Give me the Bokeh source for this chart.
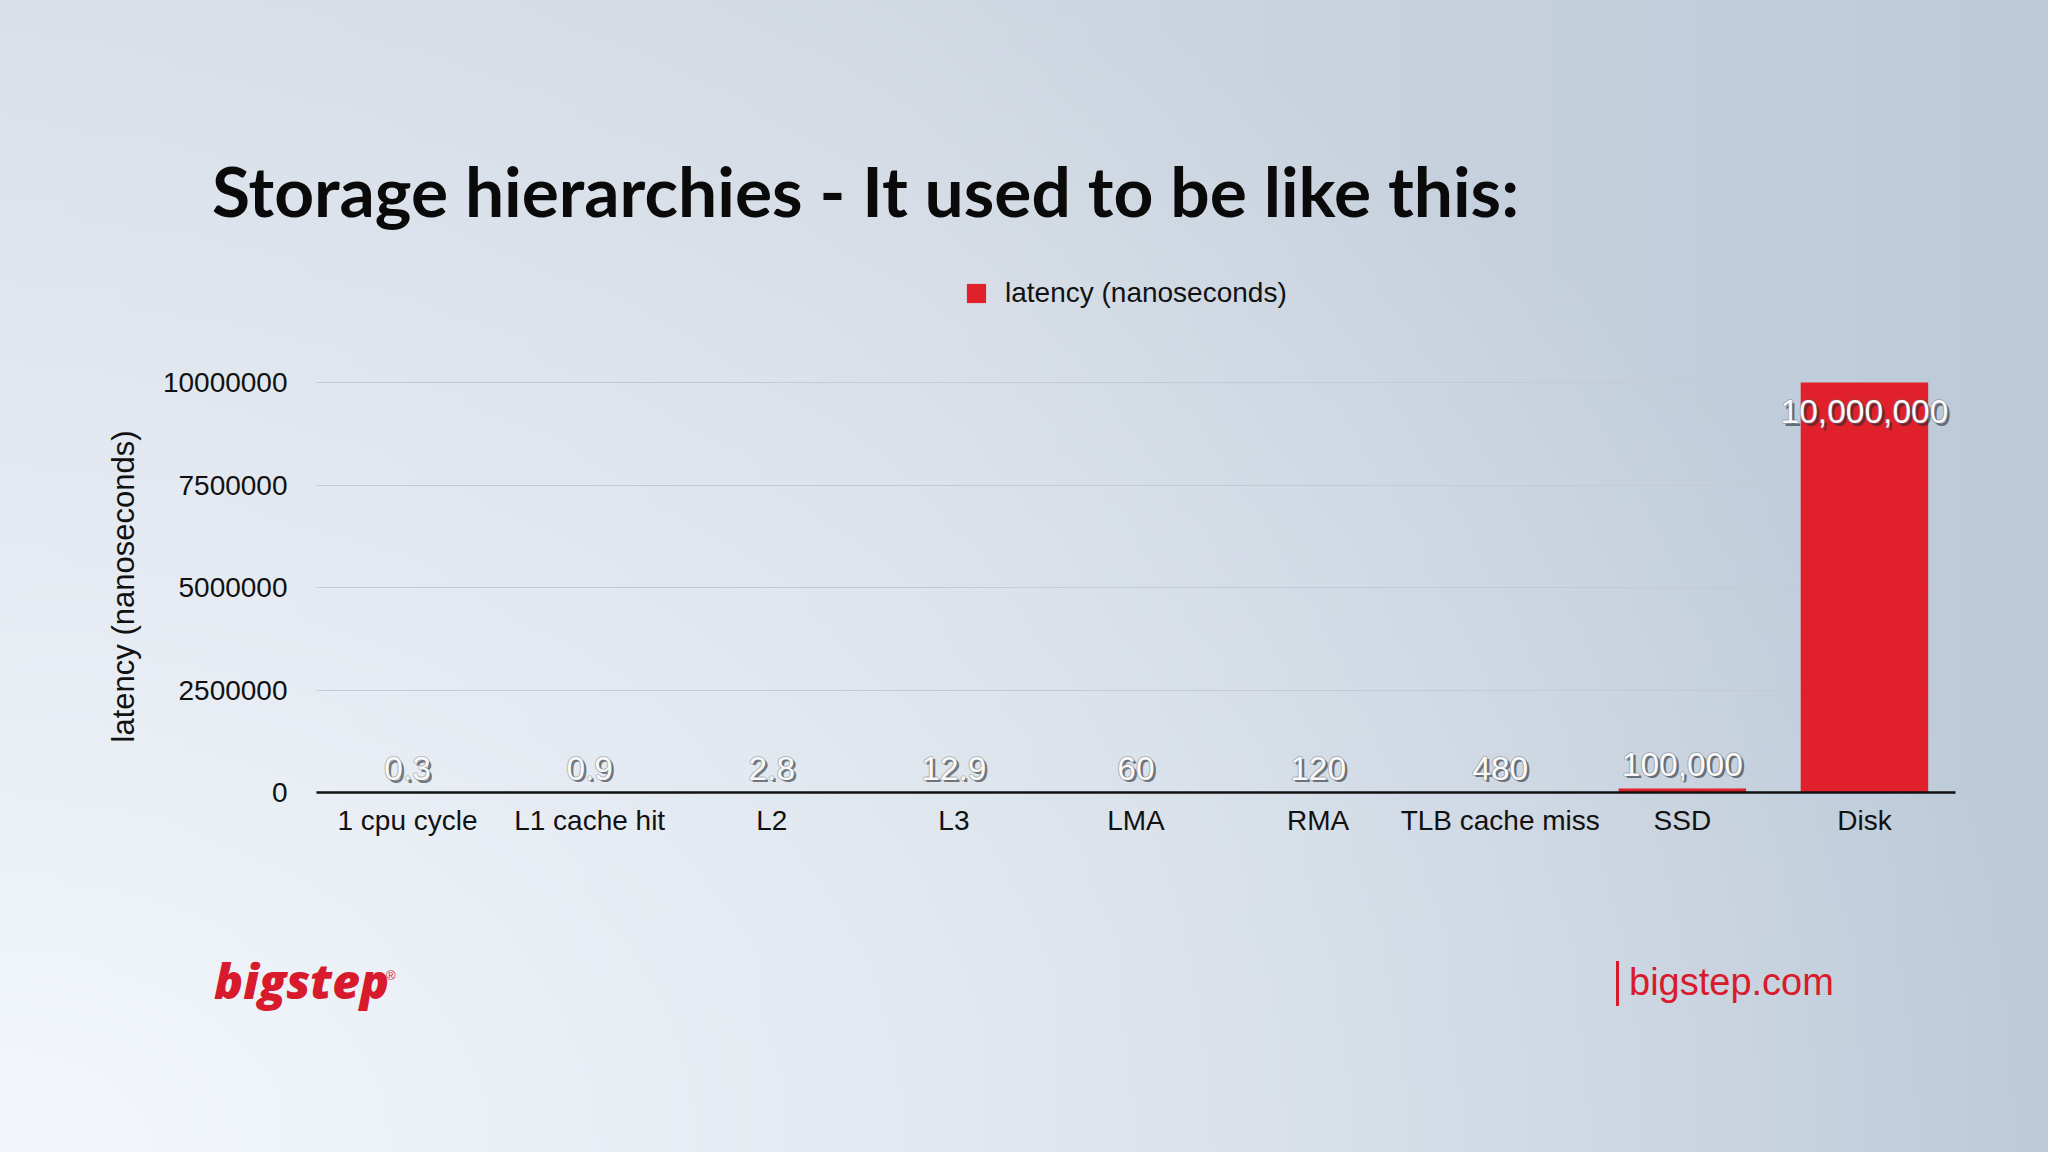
from bokeh.plotting import figure
from bokeh.layouts import column
from bokeh.models import (ColumnDataSource, FixedTicker, Legend, LegendItem,
                          NumeralTickFormatter, Range1d, Div)
from bokeh.core.properties import value
from bokeh.embed import file_html
from bokeh.resources import INLINE

# ---- data ----
categories = ["1 cpu cycle", "L1 cache hit", "L2", "L3", "LMA", "RMA",
              "TLB cache miss", "SSD", "Disk"]
latency_ns = [0.3, 0.9, 2.8, 12.9, 60, 120, 480, 100000, 10000000]
value_labels = ["0.3", "0.9", "2.8", "12.9", "60", "120", "480", "100,000", "10,000,000"]
y_ticks = [0, 2500000, 5000000, 7500000, 10000000]
title_text = "Storage hierarchies - It used to be like this:"
series_name = "latency (nanoseconds)"
y_axis_title = "latency (nanoseconds)"
logo_text = "bigstep"
site_text = "bigstep.com"

# ---- styles ----
RED = "#e0202b"
LOGO_RED = "#d81b2c"
FONT = "Liberation Sans"
W = 2048
TOP_H, LEG_H, CHART_H, BOTTOM_H = 240, 100, 560, 252

GRAD = ("radial-gradient(ellipse 100% 120% at 0% 100%, rgba(243,247,253,1) 0%, "
        "rgba(243,247,253,0.6) 40%, rgba(243,247,253,0) 100%), "
        "linear-gradient(to right, #d4dbe5 0%, #cfd7e1 45%, #bccad8 100%)")


def bg(offset_y):
    return {"background-image": GRAD, "background-size": "2048px 1152px",
            "background-position": "0px -%dpx" % offset_y,
            "background-repeat": "no-repeat", "margin": "0", "padding": "0"}


def clear(f):
    f.title.visible = False
    f.background_fill_color = None
    f.border_fill_color = None
    f.outline_line_color = None


ymax = max(latency_ns)
offs = [29 if v == ymax else -24 for v in latency_ns]
shadow_specs = [(2.5, 2.5, "#262a30", 0.6), (-1, 0, "#6b717a", 0.4),
                (1, 0, "#6b717a", 0.4), (0, -1, "#6b717a", 0.4), (0, 1, "#6b717a", 0.4)]
data = dict(cat=categories, val=latency_ns, lab=value_labels, yoff=offs)
for i, (dx, dy, c, a) in enumerate(shadow_specs):
    data["yoff_%d" % i] = [o + dy for o in offs]
src = ColumnDataSource(data)

# ---------------- top: title ----------------
top = Div(width=W, height=TOP_H, styles=bg(0), text=(
    '<div style="margin:0; padding:156px 0 0 212px; font-family:Lato; font-weight:700; '
    'font-size:69.5px; line-height:69.5px; color:#0a0a0a; white-space:nowrap;">'
    + title_text + '</div>'))

# ---------------- legend strip ----------------
leg = figure(x_range=categories, y_range=Range1d(0, 1), width=W, height=LEG_H,
             x_axis_type=None, y_axis_type=None, output_backend="svg",
             toolbar_location=None, min_border_left=316, min_border_right=93,
             min_border_top=0, min_border_bottom=0)
clear(leg)
leg.styles = bg(TOP_H)
leg_bars = leg.vbar(x="cat", top="val", width=0.7, source=src, fill_color=RED,
                    line_color=None, visible=False)
leg.add_layout(Legend(items=[LegendItem(label=series_name, renderers=[leg_bars])],
                      location=(648, 31), orientation="horizontal",
                      glyph_width=24, glyph_height=24, label_height=24,
                      label_standoff=17, padding=0, margin=0, spacing=0,
                      border_line_color=None, background_fill_alpha=0,
                      label_text_font=FONT, label_text_font_size="28px",
                      label_text_color="#111111"))

# ---------------- chart ----------------
p = figure(x_range=categories, y_range=Range1d(0, ymax * 1.005), width=W, height=CHART_H,
           output_backend="svg", toolbar_location=None,
           min_border_left=316, min_border_right=93,
           min_border_top=40, min_border_bottom=108)
clear(p)
p.styles = bg(TOP_H + LEG_H)

bars = p.vbar(x="cat", top="val", width=0.7, source=src, fill_color=RED, line_color=None)

txt = dict(x="cat", y="val", text="lab", source=src, text_align="center",
           text_baseline="middle", text_font=value(FONT), text_font_size="33.5px")
for i, (dx, dy, c, a) in enumerate(shadow_specs):
    p.text(x_offset=dx, y_offset="yoff_%d" % i, text_color=c, text_alpha=a, **txt)
p.text(y_offset="yoff", text_color="#fafafa", **txt)

p.xgrid.grid_line_color = None
p.ygrid.grid_line_color = "#c3cad5"
p.ygrid.grid_line_width = 1
p.yaxis.ticker = FixedTicker(ticks=y_ticks)
p.yaxis.formatter = NumeralTickFormatter(format="0")
p.yaxis.axis_line_color = None
p.yaxis.major_tick_line_color = None
p.yaxis.minor_tick_line_color = None
p.yaxis.major_tick_out = 0
p.yaxis.major_label_standoff = 29
p.yaxis.major_label_text_font = FONT
p.yaxis.major_label_text_font_size = "28px"
p.yaxis.major_label_text_color = "#111111"
p.yaxis.axis_label = y_axis_title
p.yaxis.axis_label_text_font = FONT
p.yaxis.axis_label_text_font_size = "31px"
p.yaxis.axis_label_text_font_style = "normal"
p.yaxis.axis_label_text_color = "#111111"
p.yaxis.axis_label_standoff = 19

p.xaxis.axis_line_color = "#111111"
p.xaxis.axis_line_width = 2.5
p.xaxis.major_tick_line_color = None
p.xaxis.minor_tick_line_color = None
p.xaxis.major_tick_out = 0
p.xaxis.major_label_standoff = 12
p.xaxis.major_label_text_font = FONT
p.xaxis.major_label_text_font_size = "28px"
p.xaxis.major_label_text_color = "#111111"
p.x_range.range_padding = 0

# ---------------- bottom: logos ----------------
bottom = Div(width=W, height=BOTTOM_H, styles=bg(TOP_H + LEG_H + CHART_H), text=(
    '<div style="position:relative; width:2048px; height:252px; margin:0; padding:0;">'
    '<span style="position:absolute; left:214px; top:57px; font-family:\'Open Sans\'; '
    'font-style:italic; font-weight:800; font-size:48px; line-height:48px; '
    'color:%s; white-space:nowrap;">%s</span>'
    '<span style="position:absolute; left:386px; top:69px; font-family:\'Liberation Sans\'; '
    'font-size:13px; line-height:13px; color:%s;">&reg;</span>'
    '<span style="position:absolute; left:1616px; top:61px; width:3px; height:45px; '
    'background:%s;"></span>'
    '<span style="position:absolute; left:1629px; top:63px; font-family:\'Liberation Sans\'; '
    'font-size:38px; line-height:38px; color:%s; white-space:nowrap;">%s</span>'
    '</div>') % (LOGO_RED, logo_text, LOGO_RED, LOGO_RED, LOGO_RED, site_text))

page = column(top, leg, p, bottom, spacing=0)
open("out.html", "w").write(file_html(page, INLINE))
